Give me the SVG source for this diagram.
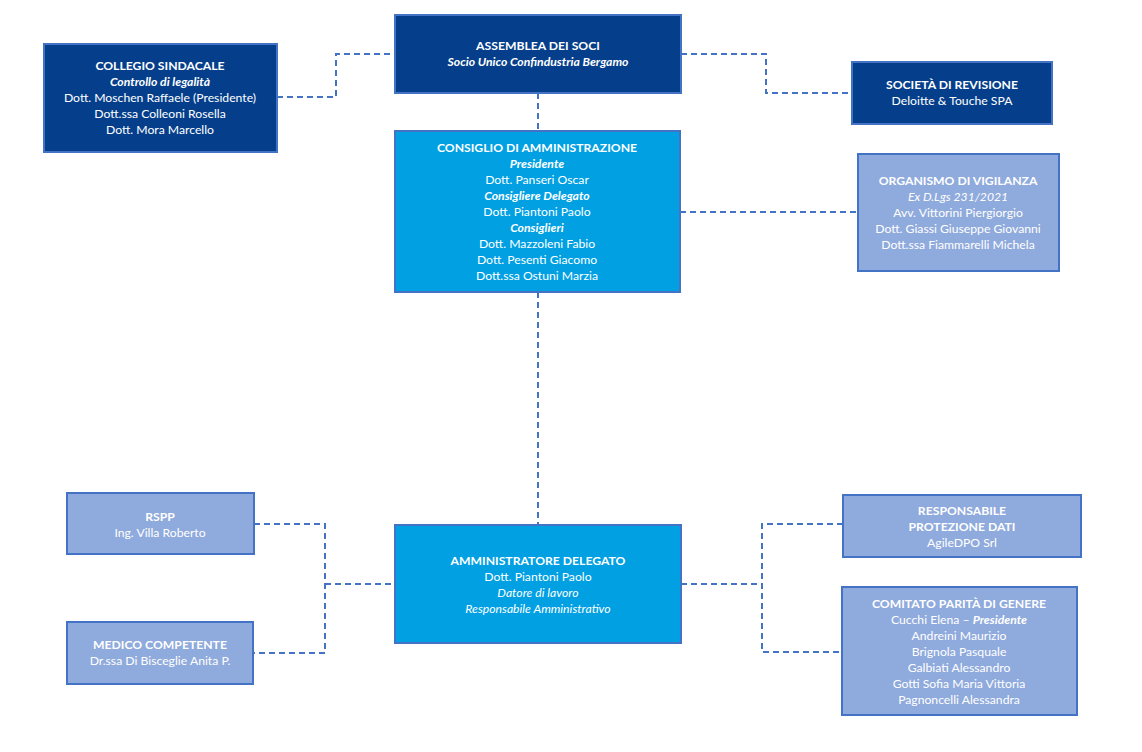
<svg xmlns="http://www.w3.org/2000/svg" width="1142" height="752" viewBox="0 0 1142 752">
<style>
.dark{fill:#053f8b;stroke:#4472c4;stroke-width:2}
.mid{fill:#00a0e3;stroke:#4472c4;stroke-width:2}
.light{fill:#8faadc;stroke:#4472c4;stroke-width:2}
text{font-family:Lato,"Liberation Sans",sans-serif;font-size:12.2px;fill:#fff;text-anchor:middle}
.b{font-weight:bold}
.i{font-style:italic}
.bi{font-weight:bold;font-style:italic}
.conn{fill:none;stroke:#4472c4;stroke-width:2;stroke-dasharray:6 4}
</style>
<rect width="1142" height="752" fill="#fff"/>
<g id="connectors">
<polyline class="conn" points="277,97 336,97 336,54 395,54"/>
<polyline class="conn" points="681,54 766,54 766,93 852,93"/>
<line class="conn" x1="538" y1="93" x2="538" y2="131"/>
<line class="conn" x1="680" y1="212" x2="858" y2="212"/>
<line class="conn" x1="538" y1="292" x2="538" y2="525"/>
<polyline class="conn" points="254,524 325,524 325,653 253,653"/>
<line class="conn" x1="325" y1="584" x2="395" y2="584"/>
<polyline class="conn" points="843,524 762,524 762,652 842,652"/>
<line class="conn" x1="681" y1="584" x2="762" y2="584"/>
</g>
<g id="collegio">
<rect class="dark" x="44" y="44" width="233" height="108"/>
<text x="160" y="70" class="b">COLLEGIO SINDACALE</text>
<text x="160" y="86" class="bi">Controllo di legalità</text>
<text x="160" y="102">Dott. Moschen Raffaele (Presidente)</text>
<text x="160" y="118">Dott.ssa Colleoni Rosella</text>
<text x="160" y="134">Dott. Mora Marcello</text>
</g>
<g id="assemblea">
<rect class="dark" x="395" y="15" width="286" height="78"/>
<text x="538" y="50" class="b">ASSEMBLEA DEI SOCI</text>
<text x="538" y="66" class="bi">Socio Unico Confindustria Bergamo</text>
</g>
<g id="revisione">
<rect class="dark" x="852" y="62" width="200" height="62"/>
<text x="952" y="89" class="b">SOCIETÀ DI REVISIONE</text>
<text x="952" y="105">Deloitte &amp; Touche SPA</text>
</g>
<g id="consiglio">
<rect class="mid" x="395" y="131" width="285" height="161"/>
<text x="537" y="152" class="b">CONSIGLIO DI AMMINISTRAZIONE</text>
<text x="537" y="168" class="bi">Presidente</text>
<text x="537" y="184">Dott. Panseri Oscar</text>
<text x="537" y="200" class="bi">Consigliere Delegato</text>
<text x="537" y="216">Dott. Piantoni Paolo</text>
<text x="537" y="232" class="bi">Consiglieri</text>
<text x="537" y="248">Dott. Mazzoleni Fabio</text>
<text x="537" y="264">Dott. Pesenti Giacomo</text>
<text x="537" y="280">Dott.ssa Ostuni Marzia</text>
</g>
<g id="organismo">
<rect class="light" x="858" y="154" width="201" height="117"/>
<text x="958" y="185" class="b">ORGANISMO DI VIGILANZA</text>
<text x="958" y="201" class="i">Ex D.Lgs 231/2021</text>
<text x="958" y="217">Avv. Vittorini Piergiorgio</text>
<text x="958" y="233">Dott. Giassi Giuseppe Giovanni</text>
<text x="958" y="249">Dott.ssa Fiammarelli Michela</text>
</g>
<g id="rspp">
<rect class="light" x="67" y="493" width="187" height="61"/>
<text x="160" y="521" class="b">RSPP</text>
<text x="160" y="537">Ing. Villa Roberto</text>
</g>
<g id="medico">
<rect class="light" x="67" y="622" width="186" height="62"/>
<text x="160" y="649" class="b">MEDICO COMPETENTE</text>
<text x="160" y="665">Dr.ssa Di Bisceglie Anita P.</text>
</g>
<g id="amministratore">
<rect class="mid" x="395" y="525" width="286" height="118"/>
<text x="538" y="565" class="b">AMMINISTRATORE DELEGATO</text>
<text x="538" y="581">Dott. Piantoni Paolo</text>
<text x="538" y="597" class="i">Datore di lavoro</text>
<text x="538" y="613" class="i">Responsabile Amministrativo</text>
</g>
<g id="rpd">
<rect class="light" x="843" y="495" width="238" height="62"/>
<text x="962" y="515" class="b">RESPONSABILE</text>
<text x="962" y="531" class="b">PROTEZIONE DATI</text>
<text x="962" y="547">AgileDPO Srl</text>
</g>
<g id="comitato">
<rect class="light" x="842" y="587" width="235" height="128"/>
<text x="959" y="608" class="b">COMITATO PARITÀ DI GENERE</text>
<text x="959" y="624">Cucchi Elena – <tspan class="bi">Presidente</tspan></text>
<text x="959" y="640">Andreini Maurizio</text>
<text x="959" y="656">Brignola Pasquale</text>
<text x="959" y="672">Galbiati Alessandro</text>
<text x="959" y="688">Gotti Sofia Maria Vittoria</text>
<text x="959" y="704">Pagnoncelli Alessandra</text>
</g>
</svg>
